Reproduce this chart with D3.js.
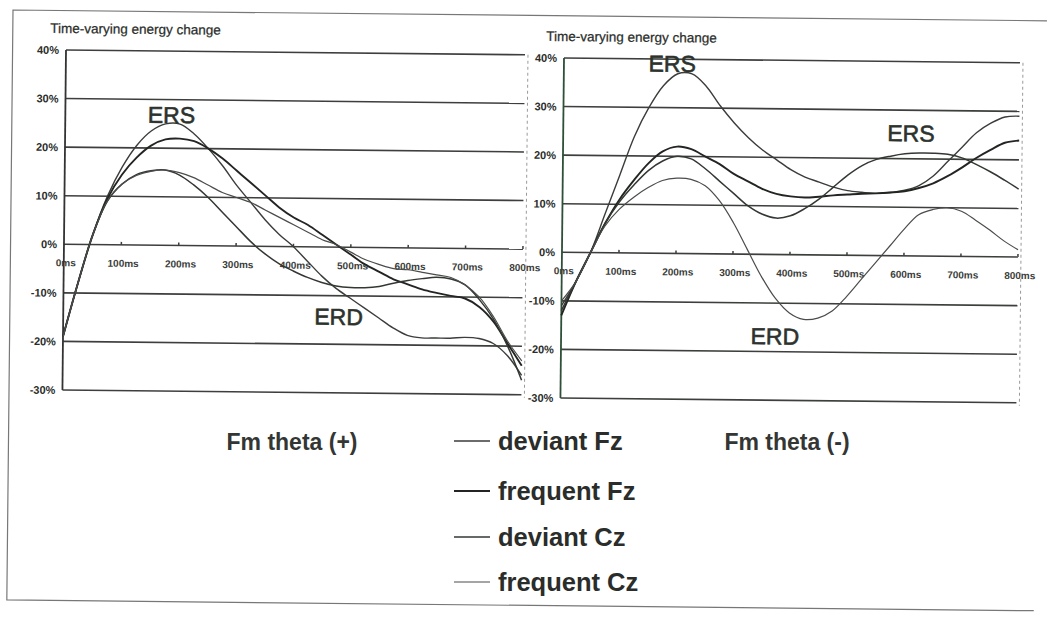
<!DOCTYPE html>
<html>
<head>
<meta charset="utf-8">
<script src="https://cdn.jsdelivr.net/npm/d3@7"></script>
<style>
  body { margin: 0; background: #fff; }
  svg { display: block; font-family: "Liberation Sans", Arial, sans-serif; }
</style>
</head>
<body>
<svg id="chart" width="1049" height="617"></svg>
<script>
// time axis (ms) shared by every curve
const times = [0, 25, 50, 75, 100, 125, 150, 175, 200, 225, 250, 275, 300, 325, 350, 375, 400,
  425, 450, 475, 500, 525, 550, 575, 600, 625, 650, 675, 700, 725, 750, 775, 800];
const xTicks = [0, 100, 200, 300, 400, 500, 600, 700, 800];
const yTicks = [40, 30, 20, 10, 0, -10, -20, -30];

// Fm theta (+) , energy change in %
const plusDevFz = [-19, -8, 2, 10, 16, 20.5, 23.5, 25, 25, 23, 20, 16.5, 12.5, 9, 5.5, 2.5, 0,
  -3, -6, -8.5, -10.5, -12.5, -14.5, -16.5, -18, -18.5, -18.5, -18.5, -18.3, -18.5, -19.5, -22, -26];
const plusFreqFz = [-19, -8, 2, 9.5, 14.5, 18, 20.5, 21.8, 22, 21.5, 20, 18, 15.5, 13, 10.5, 8, 6,
  4.5, 2.5, 0.5, -1.5, -3.5, -5, -6.5, -7.5, -8.5, -9.2, -9.8, -10.3, -12, -15, -19.5, -24];
const plusDevCz = [-19, -8, 2, 9, 12.5, 14.5, 15.3, 15.5, 14.5, 12.5, 10, 7, 4, 1, -1.5, -3.5, -5,
  -6.3, -7.3, -8, -8.3, -8.3, -8, -7.3, -6.7, -6.3, -6, -6.3, -7.5, -10.5, -14.5, -20, -27];
const plusFreqCz = [-19, -8, 2, 9, 12.5, 14.3, 15.2, 15.5, 15, 14, 12.5, 11, 10, 9, 7.5, 6, 4.5,
  3, 1.5, 0.5, -1, -2.5, -3.5, -4.3, -4.5, -5, -5.5, -6, -7.5, -10, -14, -19, -23];

// Fm theta (-)
const minusDevFz = [-11, -6, 0, 8, 16, 24, 30, 34.5, 37, 37, 34.5, 30.5, 27, 24, 21.5, 19.5, 17.5,
  16, 15, 14, 13.3, 13, 12.8, 13, 13.5, 14.5, 16.5, 19.5, 22.5, 25.5, 27.5, 28.8, 29];
const minusFreqFz = [-13, -6, 0, 6, 11, 15, 18.5, 21, 22, 21.5, 20, 18.5, 16.5, 15, 13.5, 12.5, 12,
  11.8, 12, 12.3, 12.5, 12.7, 12.8, 13, 13.3, 14, 15, 16.5, 18.3, 20.3, 22, 23.5, 24];
const minusDevCz = [-12, -6, 0, 6, 10.5, 14, 17, 19, 20, 19.5, 17.5, 15, 12.5, 10, 8.3, 7.5, 8,
  9.5, 11.5, 14, 16.5, 18.5, 19.8, 20.5, 21, 21.2, 21.2, 21, 20.3, 19, 17.5, 15.8, 14];
const minusFreqCz = [-10, -6, 0, 5.5, 9, 11.5, 13.5, 15, 15.5, 15.3, 14, 11, 6.5, 1, -4.5, -9, -12,
  -13.3, -13, -11.5, -8.5, -5, -1.5, 2, 5.5, 8.5, 9.6, 10, 9.3, 7.5, 5.5, 3.3, 1.5];

const seriesNames = ['deviant Fz', 'frequent Fz', 'deviant Cz', 'frequent Cz'];
const lineColors = ['#3a3d3a', '#222522', '#333833', '#4a4d4a'];
const lineWidths = [1.4, 1.9, 1.5, 1.2];

const ink = '#2a2d2a';
const svg = d3.select('#chart');

// scanned page frame
svg.append('g')
  .attr('transform', 'rotate(0.6, 13, 10)')
  .append('path')
  .attr('d', 'M1047,10 L13,10 L13,600 L1040,600')
  .attr('fill', 'none')
  .attr('stroke', '#777')
  .attr('stroke-width', 1.2);

function drawPanel(opts) {
  const w = opts.width, h = opts.height;
  const g = svg.append('g')
    .attr('transform', `translate(${opts.left},${opts.top}) rotate(0.6)`);

  const x = d3.scaleLinear().domain([0, 800]).range([0, w]);
  const y = d3.scaleLinear().domain([-30, 40]).range([h, 0]);

  // y title
  g.append('text')
    .attr('x', opts.titleX).attr('y', -17)
    .text('Time-varying energy change')
    .style('font-size', '13.5px')
    .attr('fill', ink)
    .attr('stroke', ink).attr('stroke-width', 0.25);

  // horizontal grid
  g.append('g').selectAll('line')
    .data(yTicks)
    .join('line')
    .attr('x1', 0).attr('x2', w)
    .attr('y1', (d) => y(d)).attr('y2', (d) => y(d))
    .attr('stroke', '#3c3f3c')
    .attr('stroke-width', 1.6);

  // y labels
  g.append('g').selectAll('text')
    .data(yTicks)
    .join('text')
    .attr('x', -7).attr('y', (d) => y(d) + 4)
    .attr('text-anchor', 'end')
    .text((d) => d + '%')
    .style('font-size', '11px')
    .style('font-weight', 'bold')
    .attr('fill', ink);

  // x ticks on the 0% line
  g.append('g').selectAll('line')
    .data(xTicks.slice(1))
    .join('line')
    .attr('x1', (d) => x(d)).attr('x2', (d) => x(d))
    .attr('y1', y(0)).attr('y2', y(0) - 3)
    .attr('stroke', '#3c3f3c')
    .attr('stroke-width', 1.5);

  g.append('g').selectAll('text')
    .data(xTicks)
    .join('text')
    .attr('x', (d) => x(d) + 2).attr('y', y(0) + 22)
    .attr('text-anchor', 'middle')
    .text((d) => d + 'ms')
    .style('font-size', '10px')
    .style('font-weight', 'bold')
    .attr('fill', '#3a3d3a');

  // frame: solid left, dashed right
  g.append('line')
    .attr('x1', 0).attr('x2', 0).attr('y1', 0).attr('y2', h)
    .attr('stroke', opts.axisColor).attr('stroke-width', 1.8);
  g.append('line')
    .attr('x1', w + 3).attr('x2', w + 3).attr('y1', 0).attr('y2', h + 3)
    .attr('stroke', '#999').attr('stroke-width', 1)
    .attr('stroke-dasharray', '3,3');

  // curves
  const line = d3.line()
    .x((d, i) => x(times[i]))
    .y((d) => y(d))
    .curve(d3.curveCatmullRom.alpha(0.5));

  g.append('g').selectAll('path')
    .data(opts.series)
    .join('path')
    .attr('d', (d) => line(d))
    .attr('fill', 'none')
    .attr('stroke', (d, i) => lineColors[i])
    .attr('stroke-width', (d, i) => lineWidths[i]);

  // ERS / ERD annotations
  g.append('g').selectAll('text')
    .data(opts.notes)
    .join('text')
    .attr('x', (d) => x(d.ms)).attr('y', (d) => y(d.v))
    .attr('text-anchor', 'middle')
    .text((d) => d.label)
    .style('font-size', '23px')
    .attr('fill', '#2d322d')
    .attr('stroke', '#2d322d').attr('stroke-width', 0.6);
}

drawPanel({
  left: 66, top: 50, width: 459, height: 340, titleX: -16, axisColor: '#333',
  series: [plusDevFz, plusFreqFz, plusDevCz, plusFreqCz],
  notes: [{ label: 'ERS', ms: 185, v: 25.2 }, { label: 'ERD', ms: 480, v: -16 }]
});

drawPanel({
  left: 564, top: 58, width: 456, height: 340, titleX: -18, axisColor: '#2e4f38',
  series: [minusDevFz, minusFreqFz, minusDevCz, minusFreqCz],
  notes: [{ label: 'ERS', ms: 190, v: 37.4 }, { label: 'ERS', ms: 610, v: 23.6 },
    { label: 'ERD', ms: 375, v: -18.5 }]
});

// panel titles
svg.append('text').attr('x', 292).attr('y', 450)
  .attr('text-anchor', 'middle')
  .text('Fm theta (+)')
  .style('font-size', '23px')
  .style('font-weight', 'bold')
  .attr('fill', '#333633');
svg.append('text').attr('x', 787).attr('y', 450)
  .attr('text-anchor', 'middle')
  .text('Fm theta (-)')
  .style('font-size', '23px')
  .style('font-weight', 'bold')
  .attr('fill', '#333633');

// legend
const legend = svg.append('g').attr('transform', 'translate(454,0)');
const legendY = [450, 500, 546, 591];
legend.selectAll('line')
  .data(seriesNames)
  .join('line')
  .attr('x1', 0).attr('x2', 36)
  .attr('y1', (d, i) => legendY[i] - 9).attr('y2', (d, i) => legendY[i] - 9)
  .attr('stroke', (d, i) => lineColors[i])
  .attr('stroke-width', (d, i) => lineWidths[i]);
legend.selectAll('text')
  .data(seriesNames)
  .join('text')
  .attr('x', 44).attr('y', (d, i) => legendY[i])
  .text((d) => d)
  .style('font-size', '25.5px')
  .style('font-weight', 'bold')
  .attr('fill', ink);
</script>
</body>
</html>
